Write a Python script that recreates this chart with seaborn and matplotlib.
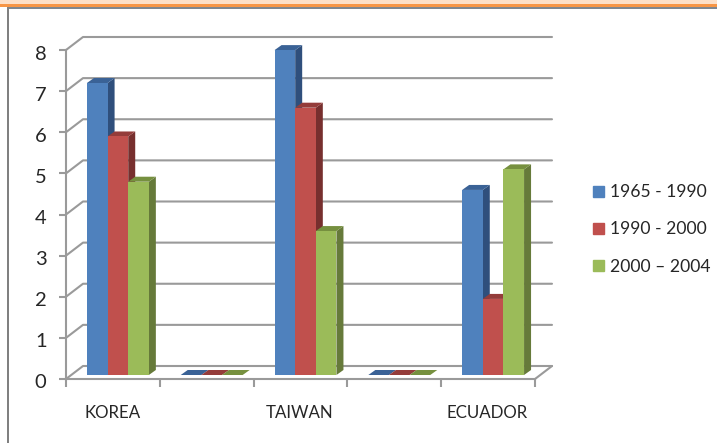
import matplotlib
matplotlib.use("Agg")
import matplotlib.pyplot as plt
from matplotlib.patches import Polygon, Rectangle
from matplotlib.transforms import ScaledTranslation
import pandas as pd
import seaborn as sns

# Growth figures per country and period
countries = ["KOREA", "", "TAIWAN", " ", "ECUADOR"]
periods = ["1965 - 1990", "1990 - 2000", "2000 \u2013 2004"]
values_1965_1990 = [7.1, 0, 7.9, 0, 4.5]
values_1990_2000 = [5.8, 0, 6.5, 0, 1.85]
values_2000_2004 = [4.7, 0, 3.5, 0, 5.0]
y_ticks = list(range(9))

front_colors = ["#4f81bd", "#c0504d", "#9bbb59"]
side_colors = ["#2f4f7c", "#772f2e", "#667a3a"]
top_colors = ["#3a6296", "#943c3a", "#76903f"]
grid_color = "#9a9a9a"

W, H = 717, 443
sns.set_theme(style="white")
plt.rcParams["font.family"] = ["Lato", "DejaVu Sans"]

fig = plt.figure(figsize=(W / 100, H / 100), dpi=100)


def axes_from_px(left, right, top, bottom, **kw):
    return fig.add_axes([left / W, 1 - bottom / H, (right - left) / W, (bottom - top) / H], **kw)


# Page furniture around the chart
fig.add_artist(Rectangle((0, 1 - 4 / H), 1, 4 / H, transform=fig.transFigure, color="#fde0c8", lw=0))
fig.add_artist(Rectangle((0, 1 - 7 / H), 1, 3 / H, transform=fig.transFigure, color="#f79646", lw=0))
fig.add_artist(Rectangle((7 / W, 1 - 9 / H), (W - 7) / W, 2 / H, transform=fig.transFigure, color="#7f8790", lw=0))
fig.add_artist(Rectangle((7 / W, 0), 2 / W, 1 - 7 / H, transform=fig.transFigure, color="#808080", lw=0))

# Front plane of the chart: carries the axis lines, ticks and labels
ax = axes_from_px(66, 535, 50, 379)
ax.set_xlim(0, len(countries))
ax.set_ylim(0, 8)
ax.patch.set_alpha(0)
for name in ("top", "right"):
    ax.spines[name].set_visible(False)
for name in ("left", "bottom"):
    ax.spines[name].set_color(grid_color)
    ax.spines[name].set_linewidth(1.5)
ax.set_yticks(y_ticks)
ax.set_xticks(range(len(countries) + 1))
ax.set_xticklabels([])
ax.tick_params(axis="y", length=5, width=1.5, color=grid_color, labelsize=14.5, labelcolor="#262626", pad=9, left=True)
ax.tick_params(axis="x", length=5.8, width=1.5, color=grid_color, bottom=True)
# Numerals sit slightly below their ticks
shift_down = ScaledTranslation(0, -2.5 / 100, fig.dpi_scale_trans)
for label in ax.get_yticklabels():
    label.set_transform(label.get_transform() + shift_down)
for i, name in enumerate(countries):
    ax.annotate(name, (i + 0.5, 0), xycoords=("data", "data"), xytext=(-0.5, -34 * 72 / 100),
                textcoords="offset points", ha="center", va="center", fontsize=12.2, color="#262626")

# Back wall and floor, offset from the front plane in pixels
DEPTH = (17, 13)
px_x = (535 - 66) / len(countries)
px_y = (379 - 50) / 8
dx, dy = DEPTH[0] / px_x, DEPTH[1] / px_y
x_end = len(countries)
for v in y_ticks:
    ax.plot([0, dx, x_end + dx], [v, v + dy, v + dy], color=grid_color, lw=1.5, clip_on=False, zorder=1)
ax.plot([x_end, x_end + dx], [0, dy], color=grid_color, lw=1.5, clip_on=False, zorder=1)

# Bars sit part way into the depth of the floor
bar_ax = axes_from_px(71, 540, 46, 375)
bar_ax.patch.set_alpha(0)
frame = pd.DataFrame({
    "country": countries * 3,
    "period": [p for p in periods for _ in countries],
    "value": values_1965_1990 + values_1990_2000 + values_2000_2004,
})
sns.barplot(data=frame, x="country", y="value", hue="period", order=countries, hue_order=periods,
            palette=front_colors, width=0.66, gap=0, saturation=1, legend=False, ax=bar_ax,
            linewidth=0, zorder=10)
bar_ax.set_xlim(-0.5, len(countries) - 0.5)
bar_ax.set_ylim(0, 8)
bar_ax.axis("off")

# Side and top faces give each bar its depth
BAR_DEPTH = (7, 5)
bx, by = BAR_DEPTH[0] / px_x, BAR_DEPTH[1] / px_y
for s, container in enumerate(bar_ax.containers):
    for bar in container:
        x0, w, h = bar.get_x(), bar.get_width(), bar.get_height()
        x1 = x0 + w
        z = 10 + s * 3
        bar.set_zorder(z + 2)
        bar_ax.add_patch(Polygon([(x1, 0), (x1 + bx, by), (x1 + bx, h + by), (x1, h)],
                                 facecolor=side_colors[s], lw=0, clip_on=False, zorder=z))
        bar_ax.add_patch(Polygon([(x0, h), (x0 + bx, h + by), (x1 + bx, h + by), (x1, h)],
                                 facecolor=top_colors[s], lw=0, clip_on=False, zorder=z + 1))

# Legend to the right of the plot
handles = [Rectangle((0, 0), 1, 1, color=c) for c in front_colors]
fig.legend(handles, periods, loc="center left", bbox_to_anchor=(593 / W, 1 - 229.5 / H), frameon=False,
           fontsize=12.6, labelcolor="#262626", handlelength=0.63, handleheight=0.63, handletextpad=0.36,
           labelspacing=1.2, borderpad=0, borderaxespad=0)

fig.savefig("out.png", dpi=100)
